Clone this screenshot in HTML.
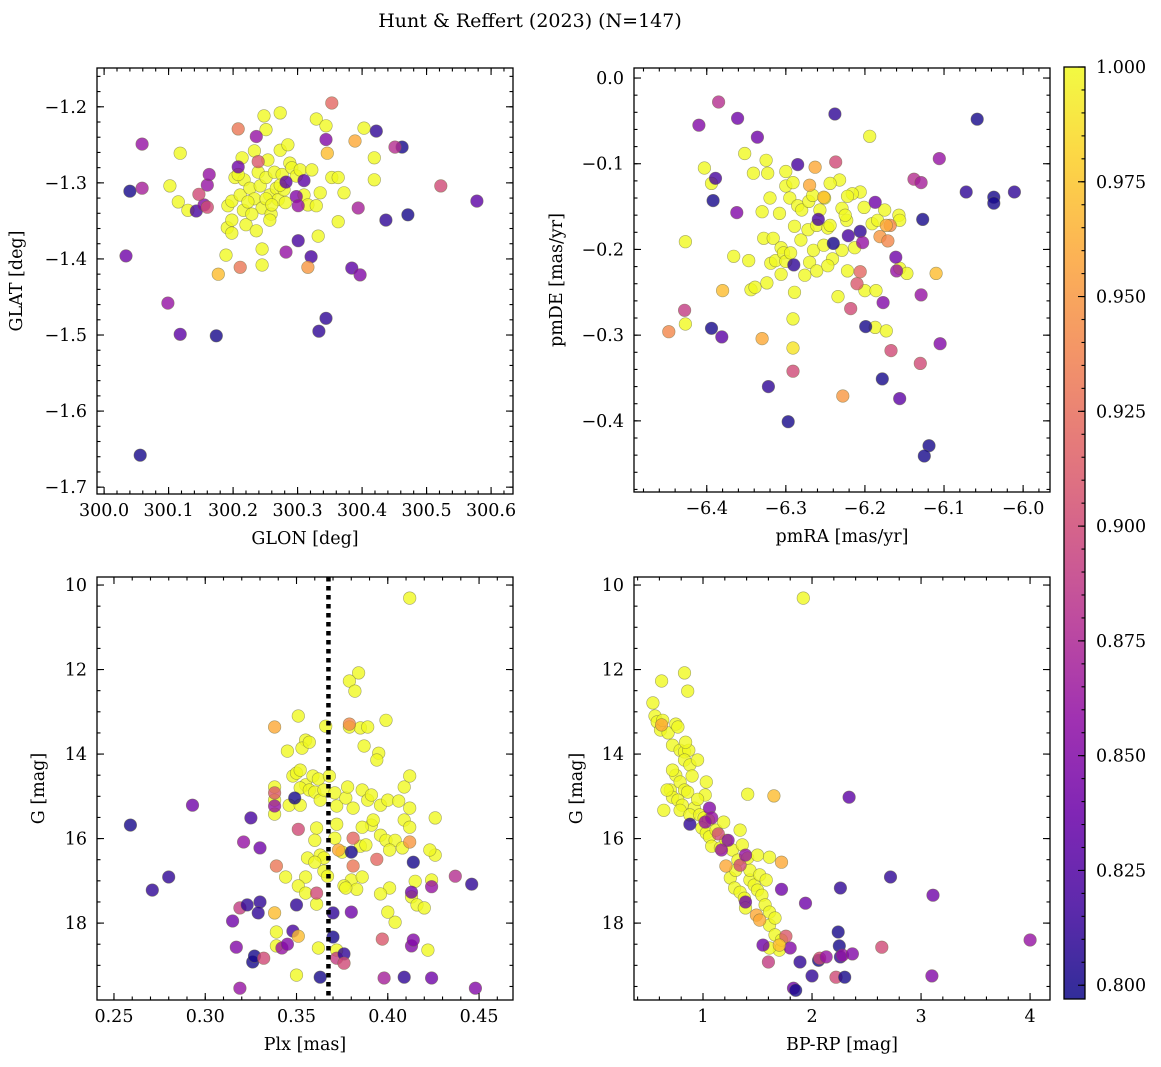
<!DOCTYPE html>
<html><head><meta charset="utf-8"><title>Hunt & Reffert (2023)</title>
<style>
html,body{margin:0;padding:0;background:#fff;}
svg{display:block;font-family:"DejaVu Serif","Liberation Serif",serif;}
</style></head>
<body>
<svg id="fig" width="1161" height="1067" viewBox="0 0 1161 1067" xmlns="http://www.w3.org/2000/svg">
<rect width="1161" height="1067" fill="#fff"/>
<text x="530" y="27" font-size="19" text-anchor="middle" fill="#000">Hunt &amp; Reffert (2023) (N=147)</text>
</svg>
<script>
// ---------- Panel 1: GLON vs GLAT ----------
const p1Glon = [300.102,300.118,300.115,300.130,300.191,300.198,300.189,300.192,300.198,300.203,300.214,300.217,300.211,300.216,300.220,300.226,300.233,300.239,300.242,300.245,300.251,300.254,300.257,300.259,300.264,300.267,300.270,300.273,300.276,300.281,300.285,300.288,300.291,300.298,300.304,300.310,300.316,300.322,300.329,300.332,300.335,300.344,300.353,300.363,300.372,300.363,300.403,300.419,300.419,300.245,300.245,300.248,300.273,300.251,300.233,300.208,300.229,300.236,300.257,300.223,300.251,300.279,300.329,300.198,300.273,300.260,
300.040,300.056,300.034,300.059,300.059,300.099,300.118,300.174,300.143,300.155,300.160,300.163,300.147,300.160,300.208,300.236,300.239,300.282,300.298,300.301,300.301,300.310,300.282,300.321,300.333,300.344,300.344,300.353,300.394,300.384,300.397,300.422,300.437,300.462,300.451,300.471,300.522,300.578,300.208,300.211,300.316,300.177,300.389,300.346];
const p1Glat = [-1.304,-1.261,-1.325,-1.336,-1.359,-1.366,-1.395,-1.330,-1.324,-1.293,-1.267,-1.296,-1.316,-1.336,-1.355,-1.307,-1.321,-1.286,-1.304,-1.333,-1.293,-1.270,-1.316,-1.341,-1.286,-1.307,-1.322,-1.257,-1.289,-1.326,-1.250,-1.274,-1.280,-1.291,-1.283,-1.316,-1.329,-1.283,-1.216,-1.370,-1.313,-1.225,-1.293,-1.293,-1.313,-1.351,-1.228,-1.267,-1.296,-1.387,-1.408,-1.212,-1.208,-1.230,-1.258,-1.289,-1.341,-1.363,-1.349,-1.325,-1.321,-1.309,-1.330,-1.349,-1.303,-1.329,
-1.311,-1.658,-1.396,-1.249,-1.307,-1.458,-1.499,-1.501,-1.337,-1.329,-1.303,-1.289,-1.315,-1.332,-1.279,-1.239,-1.272,-1.299,-1.318,-1.330,-1.376,-1.297,-1.391,-1.397,-1.495,-1.478,-1.243,-1.195,-1.333,-1.412,-1.421,-1.232,-1.349,-1.253,-1.253,-1.342,-1.304,-1.324,-1.229,-1.411,-1.411,-1.420,-1.245,-1.261];
const p1Prob = [1,1,1,1,1,1,1,1,1,1,1,1,1,1,1,1,1,1,1,1,1,1,1,1,1,1,1,1,1,1,1,1,1,1,1,1,1,1,1,1,1,1,1,1,1,1,1,1,1,1,1,1,1,1,1,1,1,1,1,1,1,1,1,1,1,1,
0.80,0.80,0.84,0.86,0.87,0.86,0.83,0.80,0.82,0.85,0.86,0.86,0.90,0.90,0.84,0.86,0.91,0.83,0.85,0.86,0.82,0.83,0.86,0.82,0.81,0.81,0.85,0.92,0.87,0.83,0.85,0.81,0.81,0.80,0.88,0.80,0.90,0.83,0.93,0.93,0.95,0.97,0.96,0.97];

// ---------- Panel 2: pmRA vs pmDE ----------
const p2PmRA = [-6.427,-6.427,-6.403,-6.394,-6.366,-6.352,-6.347,-6.344,-6.341,-6.339,-6.330,-6.328,-6.325,-6.323,-6.324,-6.319,-6.316,-6.313,-6.306,-6.306,-6.303,-6.300,-6.294,-6.300,-6.300,-6.295,-6.291,-6.285,-6.280,-6.289,-6.281,-6.272,-6.276,-6.289,-6.291,-6.270,-6.265,-6.261,-6.251,-6.252,-6.247,-6.241,-6.261,-6.257,-6.247,-6.232,-6.229,-6.223,-6.229,-6.222,-6.244,-6.225,-6.206,-6.201,-6.191,-6.184,-6.175,-6.194,-6.200,-6.187,-6.173,-6.157,-6.156,-6.156,-6.147,-6.110,-6.216,-6.271,-6.234,-6.266,-6.308,-6.320,-6.244,-6.213,-6.222,-6.186,
-6.380,-6.330,-6.291,-6.263,-6.270,-6.252,
-6.448,-6.428,-6.410,-6.392,-6.389,-6.394,-6.381,-6.385,-6.361,-6.362,-6.336,-6.322,-6.285,-6.290,-6.297,-6.291,-6.238,-6.237,-6.259,-6.240,-6.221,-6.210,-6.206,-6.228,-6.218,-6.199,-6.206,-6.203,-6.187,-6.177,-6.178,-6.181,-6.171,-6.168,-6.173,-6.167,-6.161,-6.160,-6.156,-6.138,-6.129,-6.130,-6.129,-6.127,-6.119,-6.125,-6.106,-6.105,-6.072,-6.058,-6.037,-6.037,-6.011];
const p2PmDE = [-0.191,-0.287,-0.105,-0.123,-0.208,-0.088,-0.213,-0.247,-0.111,-0.244,-0.156,-0.187,-0.096,-0.111,-0.239,-0.216,-0.187,-0.213,-0.198,-0.229,-0.204,-0.214,-0.204,-0.109,-0.126,-0.140,-0.122,-0.149,-0.154,-0.173,-0.189,-0.177,-0.230,-0.250,-0.281,-0.215,-0.201,-0.172,-0.140,-0.195,-0.175,-0.211,-0.225,-0.154,-0.219,-0.119,-0.152,-0.166,-0.201,-0.225,-0.172,-0.160,-0.133,-0.151,-0.170,-0.166,-0.154,-0.068,-0.248,-0.291,-0.295,-0.160,-0.166,-0.222,-0.228,-0.228,-0.135,-0.144,-0.255,-0.137,-0.158,-0.140,-0.123,-0.198,-0.138,-0.248,
-0.248,-0.304,-0.315,-0.104,-0.125,-0.139,
-0.296,-0.271,-0.055,-0.143,-0.117,-0.292,-0.302,-0.028,-0.047,-0.157,-0.069,-0.360,-0.101,-0.218,-0.401,-0.342,-0.042,-0.098,-0.165,-0.193,-0.184,-0.240,-0.226,-0.371,-0.269,-0.290,-0.179,-0.192,-0.145,-0.262,-0.351,-0.185,-0.190,-0.172,-0.172,-0.318,-0.209,-0.225,-0.374,-0.118,-0.122,-0.333,-0.253,-0.165,-0.429,-0.441,-0.094,-0.310,-0.133,-0.048,-0.139,-0.146,-0.133];
const p2Prob = [1,1,1,1,1,1,1,1,1,1,1,1,1,1,1,1,1,1,1,1,1,1,1,1,1,1,1,1,1,1,1,1,1,1,1,1,1,1,1,1,1,1,1,1,1,1,1,1,1,1,1,1,1,1,1,1,1,1,1,1,1,1,1,1,1,0.97,1,1,1,1,1,1,1,1,1,1,
0.97,0.96,0.99,0.96,0.96,0.97,
0.94,0.89,0.85,0.80,0.82,0.80,0.83,0.88,0.84,0.85,0.84,0.81,0.82,0.81,0.80,0.90,0.81,0.90,0.82,0.80,0.82,0.91,0.92,0.95,0.90,0.80,0.81,0.86,0.84,0.85,0.80,0.95,0.94,0.94,0.96,0.90,0.84,0.86,0.83,0.88,0.87,0.90,0.86,0.80,0.80,0.80,0.86,0.85,0.81,0.80,0.80,0.80,0.81];

// ---------- Panel 3: Plx vs G ----------
const p3Plx = [0.412,0.384,0.379,0.382,0.351,0.366,0.379,0.385,0.389,0.399,0.387,0.395,0.394,0.355,0.345,0.353,0.357,0.348,0.350,0.352,0.355,0.359,0.352,0.362,0.338,0.338,0.338,0.346,0.352,0.357,0.360,0.363,0.365,0.368,0.371,0.372,0.377,0.378,0.381,0.386,0.389,0.391,0.396,0.400,0.406,0.409,0.412,0.409,0.412,0.396,0.399,0.404,0.408,0.401,0.385,0.388,0.391,0.372,0.371,0.361,0.363,0.365,0.365,0.356,0.360,0.360,0.344,0.355,0.351,0.355,0.367,0.380,0.383,0.376,0.361,0.401,0.415,0.413,0.416,0.420,0.426,0.426,0.412,0.424,0.422,0.339,0.339,0.350,0.362,0.372,0.377,0.386,0.396,0.404,0.400,0.392,0.386,0.375,0.423,
0.259,0.271,0.280,0.293,0.315,0.317,0.319,0.321,0.319,0.323,0.325,0.326,0.327,0.330,0.330,0.329,0.332,0.338,0.338,0.339,0.342,0.345,0.348,0.349,0.350,0.351,0.363,0.361,0.370,0.370,0.372,0.376,0.376,0.380,0.381,0.380,0.381,0.379,0.397,0.398,0.409,0.413,0.414,0.414,0.413,0.424,0.424,0.437,0.446,0.448,0.412,0.394,0.338,0.338,0.351,0.373];
const p3G = [10.31,12.08,12.27,12.51,13.10,13.34,13.36,13.38,13.36,13.20,13.81,13.98,14.14,13.67,13.93,13.86,13.72,14.52,14.45,14.38,14.73,14.52,14.80,14.59,14.78,15.09,15.42,15.21,15.21,14.85,14.90,15.09,14.85,14.52,14.92,15.23,15.04,14.78,15.28,14.85,15.09,14.97,15.21,15.09,15.11,14.78,14.52,15.56,15.73,15.92,16.04,16.04,16.22,16.27,16.18,16.15,15.68,15.66,15.99,15.75,16.39,16.46,16.77,16.46,16.56,16.04,16.91,16.91,17.12,17.29,16.89,16.98,17.20,17.12,17.55,17.17,17.01,17.38,17.57,17.64,16.39,15.51,15.28,16.98,18.64,18.21,18.54,19.23,18.59,18.64,17.17,16.91,17.31,17.98,17.74,15.56,15.73,16.32,16.27,
15.68,17.22,16.91,15.21,17.95,18.57,19.54,16.08,17.64,17.57,15.51,18.92,18.78,16.22,17.50,17.76,18.83,14.92,15.23,16.65,18.59,18.50,18.19,15.04,17.57,15.78,19.28,17.29,17.76,18.33,18.83,18.73,18.95,16.32,15.99,17.74,16.65,13.29,18.38,19.30,19.28,18.54,18.40,16.56,17.27,19.30,17.14,16.89,17.08,19.54,16.08,16.49,13.36,17.76,18.31,16.27];
const p3Prob = [1,1,1,1,1,1,1,1,1,1,1,1,1,1,1,1,1,1,1,1,1,1,1,1,1,1,1,1,1,1,1,1,1,1,1,1,1,1,1,1,1,1,1,1,1,1,1,1,1,1,1,1,1,1,1,1,1,1,1,1,1,1,1,1,1,1,1,1,1,1,1,1,1,1,1,1,1,1,1,1,1,1,1,1,1,1,1,1,1,1,1,1,1,1,1,1,1,1,1,
0.80,0.81,0.81,0.84,0.84,0.85,0.86,0.86,0.89,0.81,0.82,0.80,0.80,0.84,0.81,0.81,0.90,0.91,0.86,0.93,0.86,0.85,0.82,0.80,0.81,0.90,0.80,0.90,0.81,0.80,0.89,0.81,0.90,0.80,0.92,0.84,0.93,0.94,0.91,0.87,0.81,0.85,0.85,0.80,0.84,0.84,0.86,0.88,0.81,0.85,0.95,0.92,0.96,0.97,0.97,0.96];
const plxLine = 0.3675;

// ---------- Panel 4: BP-RP vs G ----------
const p4Color = [1.92,0.62,0.83,0.86,0.54,0.56,0.58,0.61,0.63,0.68,0.75,0.77,0.72,0.79,0.83,0.87,0.83,0.88,0.90,0.75,0.79,0.83,0.86,0.70,0.72,0.77,0.81,0.92,0.79,0.88,0.97,1.01,1.05,0.99,1.03,1.06,1.08,1.16,1.21,1.27,1.32,1.25,1.29,1.34,1.38,1.39,1.43,1.47,1.50,1.54,1.57,1.61,1.43,1.52,1.58,1.61,1.41,1.61,1.66,1.70,1.61,1.72,1.66,1.34,1.30,1.02,0.95,0.64,0.67,0.72,0.84,0.95,1.03,1.12,1.19,1.36,1.41,1.50,
0.88,1.06,1.08,1.14,1.23,1.17,1.21,1.34,1.39,1.55,1.60,1.72,1.72,1.76,1.80,1.83,1.85,1.89,1.94,2.00,2.06,2.07,2.13,2.22,2.24,2.25,2.26,2.26,2.28,2.30,2.37,2.34,2.64,2.72,3.11,3.10,4.00,1.39,1.02,0.62,1.65,1.49,1.52,1.70];
const p4G = [10.31,12.27,12.08,12.51,12.79,13.10,13.24,13.43,13.20,13.50,13.29,13.36,13.79,13.91,13.95,13.91,14.14,14.26,14.52,14.50,14.66,14.85,14.90,14.85,15.02,15.09,15.21,15.28,15.33,15.44,15.44,15.51,15.56,15.75,15.87,15.96,16.18,16.22,16.04,16.27,16.51,16.93,17.17,17.27,17.41,17.64,16.98,17.10,17.22,17.34,17.57,17.74,16.75,16.86,16.98,16.44,14.95,18.05,18.28,18.64,18.59,18.40,17.88,15.80,16.75,14.97,15.07,15.33,14.85,14.38,13.72,14.14,14.66,15.80,15.61,16.15,16.46,16.39,
15.66,15.28,15.51,15.89,16.04,16.27,16.65,16.63,16.39,18.52,18.92,16.56,17.20,18.31,18.59,19.54,19.59,18.92,17.53,19.25,18.88,18.83,18.80,19.28,18.21,18.54,17.17,18.80,18.76,19.28,18.73,15.02,18.57,16.91,17.34,19.25,18.40,17.50,15.61,13.31,14.99,17.81,17.93,18.52];
const p4Prob = [1,1,1,1,1,1,1,1,1,1,1,1,1,1,1,1,1,1,1,1,1,1,1,1,1,1,1,1,1,1,1,1,1,1,1,1,1,1,1,1,1,1,1,1,1,1,1,1,1,1,1,1,1,1,1,1,1,1,1,1,1,1,1,1,1,1,1,1,1,1,1,1,1,1,1,1,1,1,
0.81,0.85,0.86,0.90,0.85,0.86,0.96,0.90,0.86,0.84,0.89,0.96,0.84,0.91,0.85,0.84,0.80,0.81,0.84,0.81,0.80,0.90,0.86,0.90,0.80,0.80,0.81,0.81,0.86,0.80,0.85,0.83,0.90,0.81,0.84,0.85,0.86,0.84,0.86,0.96,0.97,0.96,0.96,0.97];

// colorbar
const cbTicks = [0.800,0.825,0.850,0.875,0.900,0.925,0.950,0.975,1.000];
const vmin = 0.797, vmax = 1.0;

const NS = "http://www.w3.org/2000/svg";
const svg = document.getElementById('fig');
function mk(tag, attrs, parent){
  const e = document.createElementNS(NS, tag);
  for (const k in attrs) e.setAttribute(k, attrs[k]);
  (parent||svg).appendChild(e);
  return e;
}
const plasma = [[13,8,135],[65,4,157],[106,0,168],[143,13,164],[177,42,144],[204,71,120],[225,100,98],[242,132,75],[252,166,54],[252,206,37],[240,249,33]];
function cmap(t){
  t = Math.max(0, Math.min(1, t));
  const f = t*10, i = Math.min(9, Math.floor(f)), u = f - i;
  const a = plasma[i], b = plasma[i+1];
  return 'rgb(' + [0,1,2].map(k => Math.round(a[k] + (b[k]-a[k])*u)).join(',') + ')';
}
function fmt(v, d){ return (v < 0 ? '\u2212' : '') + Math.abs(v).toFixed(d); }

function panel(cfg){
  const g = mk('g', {});
  
  
  const {x0,x1,y0,y1,xmin,xmax,ymin,ymax} = cfg;
  const sx = v => x0 + (v - xmin) / (xmax - xmin) * (x1 - x0);
  const sy = cfg.invertY ? (v => y0 + (v - ymin) / (ymax - ymin) * (y1 - y0))
                         : (v => y1 - (v - ymin) / (ymax - ymin) * (y1 - y0));
  const pg = mk('g', {}, g);
  
  
  for (let i = 0; i < cfg.xs.length; i++){
    const c = mk('circle', {cx: sx(cfg.xs[i]).toFixed(1), cy: sy(cfg.ys[i]).toFixed(1), r: 6.3,
      fill: cmap((cfg.ps[i]-vmin)/(vmax-vmin)), 'fill-opacity': 0.8, stroke: '#6b6b40', 'stroke-opacity': 0.6, 'stroke-width': 0.6}, pg);
    
    
  }
  if (cfg.vline !== undefined){
    const l = mk('line', {x1: sx(cfg.vline), x2: sx(cfg.vline), y1: y0, y2: y1, stroke: '#000', 'stroke-width': 4.5, 'stroke-dasharray': '4.5 4.5'}, g);
    
    
  }
  const fr = mk('rect', {x: x0, y: y0, width: x1-x0, height: y1-y0, fill: 'none', stroke: '#000', 'stroke-width': 1.3}, g);
  
  
  const tg = mk('g', {stroke: '#000', 'stroke-width': 1.1}, g);
  
  
  const eps = 1e-9;
  function ticks(lo, hi, step){ const r=[]; for (let v = Math.ceil(lo/step - eps)*step; v <= hi + eps; v += step) r.push(Math.round(v/step)*step); return r; }
  ticks(xmin, xmax, cfg.xminor).forEach(v => { const x = sx(v); mk('line',{x1:x,x2:x,y1:y1,y2:y1-3.5},tg); mk('line',{x1:x,x2:x,y1:y0,y2:y0+3.5},tg); });
  ticks(ymin, ymax, cfg.yminor).forEach(v => { const y = sy(v); mk('line',{x1:x0,x2:x0+3.5,y1:y,y2:y},tg); mk('line',{x1:x1,x2:x1-3.5,y1:y,y2:y},tg); });
  const lg = mk('g', {'font-size': 17.5, fill: '#000'}, g);
  
  
  cfg.xticks.forEach(v => { const x = sx(v);
    mk('line',{x1:x,x2:x,y1:y1,y2:y1-7},tg); mk('line',{x1:x,x2:x,y1:y0,y2:y0+7},tg);
    const t = mk('text',{x:x, y:y1+22, 'text-anchor':'middle'}, lg); t.textContent = fmt(v, cfg.xdec);
      });
  cfg.yticks.forEach(v => { const y = sy(v);
    mk('line',{x1:x0,x2:x0+7,y1:y,y2:y},tg); mk('line',{x1:x1,x2:x1-7,y1:y,y2:y},tg);
    const t = mk('text',{x:x0-10, y:y+6, 'text-anchor':'end'}, lg); t.textContent = fmt(v, cfg.ydec);
      });
  const xl = mk('text',{x:(x0+x1)/2, y:y1+50, 'text-anchor':'middle','font-size':17.5}, g); xl.textContent = cfg.xlabel;
   
  const yx = cfg.ylabelX, yc = (y0+y1)/2;
  const yl = mk('text',{x:yx, y:yc, 'text-anchor':'middle','font-size':17.5, transform:'rotate(-90 '+yx+' '+yc+')'}, g); yl.textContent = cfg.ylabel;
   
}

panel({name:'glon-glat-panel', x0:97, x1:513, y0:68, y1:494, xmin:299.989, xmax:300.634, ymin:-1.709, ymax:-1.149,
  xs:p1Glon, ys:p1Glat, ps:p1Prob, xticks:[300.0,300.1,300.2,300.3,300.4,300.5,300.6], xminor:0.02, xdec:1,
  yticks:[-1.7,-1.6,-1.5,-1.4,-1.3,-1.2], yminor:0.02, ydec:1, xlabel:'GLON [deg]', ylabel:'GLAT [deg]', ylabelX:22});
panel({name:'pm-panel', x0:634, x1:1050, y0:68, y1:492, xmin:-6.492, xmax:-5.966, ymin:-0.483, ymax:0.0117,
  xs:p2PmRA, ys:p2PmDE, ps:p2Prob, xticks:[-6.4,-6.3,-6.2,-6.1,-6.0], xminor:0.02, xdec:1,
  yticks:[-0.4,-0.3,-0.2,-0.1,0.0], yminor:0.02, ydec:1, xlabel:'pmRA [mas/yr]', ylabel:'pmDE [mas/yr]', ylabelX:562});
panel({name:'plx-g-panel', x0:97, x1:513, y0:577, y1:1000, xmin:0.2407, xmax:0.4686, ymin:9.81, ymax:19.82, invertY:true,
  xs:p3Plx, ys:p3G, ps:p3Prob, xticks:[0.25,0.30,0.35,0.40,0.45], xminor:0.01, xdec:2,
  yticks:[10,12,14,16,18], yminor:0.5, ydec:0, xlabel:'Plx [mas]', ylabel:'G [mag]', ylabelX:44, vline:plxLine});
panel({name:'cmd-panel', x0:634, x1:1050, y0:577, y1:1000, xmin:0.367, xmax:4.183, ymin:9.81, ymax:19.82, invertY:true,
  xs:p4Color, ys:p4G, ps:p4Prob, xticks:[1,2,3,4], xminor:0.2, xdec:0,
  yticks:[10,12,14,16,18], yminor:0.5, ydec:0, xlabel:'BP-RP [mag]', ylabel:'G [mag]', ylabelX:582});

(function(){
  const cx0 = 1064, cx1 = 1085, cy0 = 67, cy1 = 999;
  const cg = mk('g', {});
  
  
  const defs = mk('defs', {}, cg);
  const lg = mk('linearGradient', {id:'cbgrad', x1:0, y1:1, x2:0, y2:0}, defs);
  for (let i = 0; i <= 20; i++){
    const t = i/20;
    mk('stop', {offset: t, 'stop-color': cmap(t), 'stop-opacity': 0.85}, lg);
  }
  const r = mk('rect', {x:cx0, y:cy0, width:cx1-cx0, height:cy1-cy0, fill:'url(#cbgrad)', stroke:'#000', 'stroke-width':1.3}, cg);
  
  
  const sy = v => cy1 - (v - vmin)/(vmax - vmin)*(cy1 - cy0);
  for (let v = 0.800; v <= 1.0001; v += 0.005){
    const y = sy(v); mk('line', {x1:cx1, x2:cx1-3.5, y1:y, y2:y, stroke:'#000', 'stroke-width':1.1}, cg);
  }
  cbTicks.forEach(v => {
    const y = sy(v);
    mk('line', {x1:cx1, x2:cx1-7, y1:y, y2:y, stroke:'#000', 'stroke-width':1.1}, cg);
    const t = mk('text', {x:1096, y:y+6, 'font-size':17.5}, cg);
    t.textContent = v.toFixed(3);
    
    
  });
})();
</script>
</body></html>
